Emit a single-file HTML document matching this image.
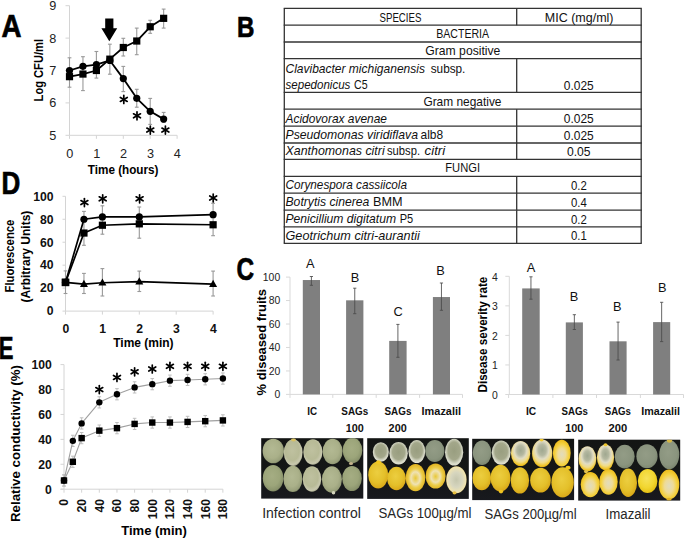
<!DOCTYPE html><html><head><meta charset="utf-8"><style>html,body{margin:0;padding:0;background:#fff;width:685px;height:538px;overflow:hidden}svg{display:block}text{font-family:"Liberation Sans",sans-serif}</style></head><body>
<svg width="685" height="538" viewBox="0 0 685 538">
<rect width="685" height="538" fill="#fff"/>
<text x="1.50" y="37.00" font-size="31.5" fill="#000" font-weight="bold" textLength="20.00" lengthAdjust="spacingAndGlyphs" stroke="#000" stroke-width="0.7">A</text>
<text x="237.10" y="37.30" font-size="30" fill="#000" font-weight="bold" textLength="17.40" lengthAdjust="spacingAndGlyphs" stroke="#000" stroke-width="0.7">B</text>
<text x="236.60" y="279.90" font-size="31.5" fill="#000" font-weight="bold" textLength="17.60" lengthAdjust="spacingAndGlyphs" stroke="#000" stroke-width="0.7">C</text>
<text x="1.40" y="193.50" font-size="31.5" fill="#000" font-weight="bold" textLength="18.80" lengthAdjust="spacingAndGlyphs" stroke="#000" stroke-width="0.7">D</text>
<text x="-1.30" y="359.30" font-size="31.5" fill="#000" font-weight="bold" textLength="14.70" lengthAdjust="spacingAndGlyphs" stroke="#000" stroke-width="0.7">E</text>
<line x1="69.50" y1="5.70" x2="69.50" y2="135.30" stroke="#d4d4d4" stroke-width="1" />
<line x1="65.50" y1="135.30" x2="69.50" y2="135.30" stroke="#d4d4d4" stroke-width="1" />
<text x="56.20" y="139.80" font-size="12.7" fill="#222" text-anchor="end" >5</text>
<line x1="65.50" y1="102.90" x2="69.50" y2="102.90" stroke="#d4d4d4" stroke-width="1" />
<text x="56.20" y="107.40" font-size="12.7" fill="#222" text-anchor="end" >6</text>
<line x1="65.50" y1="70.50" x2="69.50" y2="70.50" stroke="#d4d4d4" stroke-width="1" />
<text x="56.20" y="75.00" font-size="12.7" fill="#222" text-anchor="end" >7</text>
<line x1="65.50" y1="38.10" x2="69.50" y2="38.10" stroke="#d4d4d4" stroke-width="1" />
<text x="56.20" y="42.60" font-size="12.7" fill="#222" text-anchor="end" >8</text>
<line x1="65.50" y1="5.70" x2="69.50" y2="5.70" stroke="#d4d4d4" stroke-width="1" />
<text x="56.20" y="10.20" font-size="12.7" fill="#222" text-anchor="end" >9</text>
<line x1="69.50" y1="135.30" x2="177.10" y2="135.30" stroke="#d4d4d4" stroke-width="1" />
<line x1="69.50" y1="135.30" x2="69.50" y2="138.80" stroke="#d4d4d4" stroke-width="1" />
<text x="69.80" y="158.00" font-size="12.7" fill="#222" text-anchor="middle" >0</text>
<line x1="96.40" y1="135.30" x2="96.40" y2="138.80" stroke="#d4d4d4" stroke-width="1" />
<text x="96.70" y="158.00" font-size="12.7" fill="#222" text-anchor="middle" >1</text>
<line x1="123.30" y1="135.30" x2="123.30" y2="138.80" stroke="#d4d4d4" stroke-width="1" />
<text x="123.60" y="158.00" font-size="12.7" fill="#222" text-anchor="middle" >2</text>
<line x1="150.20" y1="135.30" x2="150.20" y2="138.80" stroke="#d4d4d4" stroke-width="1" />
<text x="150.50" y="158.00" font-size="12.7" fill="#222" text-anchor="middle" >3</text>
<line x1="177.10" y1="135.30" x2="177.10" y2="138.80" stroke="#d4d4d4" stroke-width="1" />
<text x="177.40" y="158.00" font-size="12.7" fill="#222" text-anchor="middle" >4</text>
<text x="87.80" y="174.00" font-size="12.4" fill="#000" font-weight="bold" textLength="70.70" lengthAdjust="spacingAndGlyphs" >Time (hours)</text>
<text x="43.30" y="101.40" font-size="12.6" fill="#000" font-weight="bold" textLength="62.40" lengthAdjust="spacingAndGlyphs" transform="rotate(-90 43.30 101.40)" >Log CFU/ml</text>
<line x1="69.50" y1="57.80" x2="69.50" y2="87.20" stroke="#999999" stroke-width="1.1" />
<line x1="67.60" y1="57.80" x2="71.40" y2="57.80" stroke="#999999" stroke-width="1.1" />
<line x1="67.60" y1="87.20" x2="71.40" y2="87.20" stroke="#999999" stroke-width="1.1" />
<line x1="82.95" y1="56.70" x2="82.95" y2="90.60" stroke="#999999" stroke-width="1.1" />
<line x1="81.05" y1="56.70" x2="84.85" y2="56.70" stroke="#999999" stroke-width="1.1" />
<line x1="81.05" y1="90.60" x2="84.85" y2="90.60" stroke="#999999" stroke-width="1.1" />
<line x1="96.40" y1="51.50" x2="96.40" y2="78.10" stroke="#999999" stroke-width="1.1" />
<line x1="94.50" y1="51.50" x2="98.30" y2="51.50" stroke="#999999" stroke-width="1.1" />
<line x1="94.50" y1="78.10" x2="98.30" y2="78.10" stroke="#999999" stroke-width="1.1" />
<line x1="109.85" y1="44.20" x2="109.85" y2="74.20" stroke="#999999" stroke-width="1.1" />
<line x1="107.95" y1="44.20" x2="111.75" y2="44.20" stroke="#999999" stroke-width="1.1" />
<line x1="107.95" y1="74.20" x2="111.75" y2="74.20" stroke="#999999" stroke-width="1.1" />
<line x1="123.30" y1="38.30" x2="123.30" y2="56.00" stroke="#999999" stroke-width="1.1" />
<line x1="121.40" y1="38.30" x2="125.20" y2="38.30" stroke="#999999" stroke-width="1.1" />
<line x1="121.40" y1="56.00" x2="125.20" y2="56.00" stroke="#999999" stroke-width="1.1" />
<line x1="123.30" y1="66.40" x2="123.30" y2="91.60" stroke="#999999" stroke-width="1.1" />
<line x1="121.40" y1="66.40" x2="125.20" y2="66.40" stroke="#999999" stroke-width="1.1" />
<line x1="121.40" y1="91.60" x2="125.20" y2="91.60" stroke="#999999" stroke-width="1.1" />
<line x1="136.75" y1="28.10" x2="136.75" y2="54.70" stroke="#999999" stroke-width="1.1" />
<line x1="134.85" y1="28.10" x2="138.65" y2="28.10" stroke="#999999" stroke-width="1.1" />
<line x1="134.85" y1="54.70" x2="138.65" y2="54.70" stroke="#999999" stroke-width="1.1" />
<line x1="136.75" y1="89.30" x2="136.75" y2="107.20" stroke="#999999" stroke-width="1.1" />
<line x1="134.85" y1="89.30" x2="138.65" y2="89.30" stroke="#999999" stroke-width="1.1" />
<line x1="134.85" y1="107.20" x2="138.65" y2="107.20" stroke="#999999" stroke-width="1.1" />
<line x1="150.20" y1="20.30" x2="150.20" y2="33.30" stroke="#999999" stroke-width="1.1" />
<line x1="148.30" y1="20.30" x2="152.10" y2="20.30" stroke="#999999" stroke-width="1.1" />
<line x1="148.30" y1="33.30" x2="152.10" y2="33.30" stroke="#999999" stroke-width="1.1" />
<line x1="150.20" y1="98.40" x2="150.20" y2="124.40" stroke="#999999" stroke-width="1.1" />
<line x1="148.30" y1="98.40" x2="152.10" y2="98.40" stroke="#999999" stroke-width="1.1" />
<line x1="148.30" y1="124.40" x2="152.10" y2="124.40" stroke="#999999" stroke-width="1.1" />
<line x1="163.65" y1="9.10" x2="163.65" y2="28.10" stroke="#999999" stroke-width="1.1" />
<line x1="161.75" y1="9.10" x2="165.55" y2="9.10" stroke="#999999" stroke-width="1.1" />
<line x1="161.75" y1="28.10" x2="165.55" y2="28.10" stroke="#999999" stroke-width="1.1" />
<line x1="163.65" y1="112.40" x2="163.65" y2="122.30" stroke="#999999" stroke-width="1.1" />
<line x1="161.75" y1="112.40" x2="165.55" y2="112.40" stroke="#999999" stroke-width="1.1" />
<line x1="161.75" y1="122.30" x2="165.55" y2="122.30" stroke="#999999" stroke-width="1.1" />
<polyline points="69.50,70.50 82.95,66.29 96.40,64.67 109.85,60.46 123.30,78.60 136.75,98.36 150.20,111.32 163.65,119.10" fill="none" stroke="#000" stroke-width="1.8" stroke-linejoin="round"/>
<polyline points="69.50,76.66 82.95,74.06 96.40,70.50 109.85,59.16 123.30,47.50 136.75,41.02 150.20,26.76 163.65,18.34" fill="none" stroke="#000" stroke-width="1.8" stroke-linejoin="round"/>
<circle cx="69.50" cy="70.50" r="3.6" fill="#000"/>
<circle cx="82.95" cy="66.29" r="3.6" fill="#000"/>
<circle cx="96.40" cy="64.67" r="3.6" fill="#000"/>
<circle cx="109.85" cy="60.46" r="3.6" fill="#000"/>
<circle cx="123.30" cy="78.60" r="3.6" fill="#000"/>
<circle cx="136.75" cy="98.36" r="3.6" fill="#000"/>
<circle cx="150.20" cy="111.32" r="3.6" fill="#000"/>
<circle cx="163.65" cy="119.10" r="3.6" fill="#000"/>
<rect x="65.90" y="73.06" width="7.2" height="7.2" fill="#000"/>
<rect x="79.35" y="70.46" width="7.2" height="7.2" fill="#000"/>
<rect x="92.80" y="66.90" width="7.2" height="7.2" fill="#000"/>
<rect x="106.25" y="55.56" width="7.2" height="7.2" fill="#000"/>
<rect x="119.70" y="43.90" width="7.2" height="7.2" fill="#000"/>
<rect x="133.15" y="37.42" width="7.2" height="7.2" fill="#000"/>
<rect x="146.60" y="23.16" width="7.2" height="7.2" fill="#000"/>
<rect x="160.05" y="14.74" width="7.2" height="7.2" fill="#000"/>
<polygon points="105.2,18.4 113.4,18.4 113.4,28.2 117.2,28.2 109.3,41.2 101.4,28.2 105.2,28.2" fill="#000"/>
<line x1="123.80" y1="95.40" x2="123.80" y2="103.40" stroke="#000" stroke-width="1.7" stroke-linecap="round"/>
<line x1="120.34" y1="97.40" x2="127.26" y2="101.40" stroke="#000" stroke-width="1.7" stroke-linecap="round"/>
<line x1="127.26" y1="97.40" x2="120.34" y2="101.40" stroke="#000" stroke-width="1.7" stroke-linecap="round"/>
<line x1="137.00" y1="111.80" x2="137.00" y2="119.80" stroke="#000" stroke-width="1.7" stroke-linecap="round"/>
<line x1="133.54" y1="113.80" x2="140.46" y2="117.80" stroke="#000" stroke-width="1.7" stroke-linecap="round"/>
<line x1="140.46" y1="113.80" x2="133.54" y2="117.80" stroke="#000" stroke-width="1.7" stroke-linecap="round"/>
<line x1="150.30" y1="126.10" x2="150.30" y2="134.10" stroke="#000" stroke-width="1.7" stroke-linecap="round"/>
<line x1="146.84" y1="128.10" x2="153.76" y2="132.10" stroke="#000" stroke-width="1.7" stroke-linecap="round"/>
<line x1="153.76" y1="128.10" x2="146.84" y2="132.10" stroke="#000" stroke-width="1.7" stroke-linecap="round"/>
<line x1="165.40" y1="126.10" x2="165.40" y2="134.10" stroke="#000" stroke-width="1.7" stroke-linecap="round"/>
<line x1="161.94" y1="128.10" x2="168.86" y2="132.10" stroke="#000" stroke-width="1.7" stroke-linecap="round"/>
<line x1="168.86" y1="128.10" x2="161.94" y2="132.10" stroke="#000" stroke-width="1.7" stroke-linecap="round"/>
<line x1="65.50" y1="196.30" x2="65.50" y2="311.10" stroke="#d4d4d4" stroke-width="1" />
<line x1="62.50" y1="311.10" x2="65.50" y2="311.10" stroke="#d4d4d4" stroke-width="1" />
<text x="53.50" y="315.40" font-size="12.2" fill="#111" font-weight="bold" text-anchor="end" >0</text>
<line x1="62.50" y1="288.14" x2="65.50" y2="288.14" stroke="#d4d4d4" stroke-width="1" />
<text x="53.50" y="292.44" font-size="12.2" fill="#111" font-weight="bold" text-anchor="end" >20</text>
<line x1="62.50" y1="265.18" x2="65.50" y2="265.18" stroke="#d4d4d4" stroke-width="1" />
<text x="53.50" y="269.48" font-size="12.2" fill="#111" font-weight="bold" text-anchor="end" >40</text>
<line x1="62.50" y1="242.22" x2="65.50" y2="242.22" stroke="#d4d4d4" stroke-width="1" />
<text x="53.50" y="246.52" font-size="12.2" fill="#111" font-weight="bold" text-anchor="end" >60</text>
<line x1="62.50" y1="219.26" x2="65.50" y2="219.26" stroke="#d4d4d4" stroke-width="1" />
<text x="53.50" y="223.56" font-size="12.2" fill="#111" font-weight="bold" text-anchor="end" >80</text>
<line x1="62.50" y1="196.30" x2="65.50" y2="196.30" stroke="#d4d4d4" stroke-width="1" />
<text x="53.50" y="200.60" font-size="12.2" fill="#111" font-weight="bold" text-anchor="end" >100</text>
<line x1="65.50" y1="311.10" x2="213.10" y2="311.10" stroke="#d4d4d4" stroke-width="1" />
<line x1="65.50" y1="311.10" x2="65.50" y2="314.60" stroke="#d4d4d4" stroke-width="1" />
<text x="65.80" y="333.00" font-size="12.2" fill="#111" font-weight="bold" text-anchor="middle" >0</text>
<line x1="102.40" y1="311.10" x2="102.40" y2="314.60" stroke="#d4d4d4" stroke-width="1" />
<text x="102.70" y="333.00" font-size="12.2" fill="#111" font-weight="bold" text-anchor="middle" >1</text>
<line x1="139.30" y1="311.10" x2="139.30" y2="314.60" stroke="#d4d4d4" stroke-width="1" />
<text x="139.60" y="333.00" font-size="12.2" fill="#111" font-weight="bold" text-anchor="middle" >2</text>
<line x1="176.20" y1="311.10" x2="176.20" y2="314.60" stroke="#d4d4d4" stroke-width="1" />
<text x="176.50" y="333.00" font-size="12.2" fill="#111" font-weight="bold" text-anchor="middle" >3</text>
<line x1="213.10" y1="311.10" x2="213.10" y2="314.60" stroke="#d4d4d4" stroke-width="1" />
<text x="213.40" y="333.00" font-size="12.2" fill="#111" font-weight="bold" text-anchor="middle" >4</text>
<text x="113.20" y="346.50" font-size="12.4" fill="#000" font-weight="bold" textLength="60.40" lengthAdjust="spacingAndGlyphs" >Time (min)</text>
<text x="14.20" y="292.50" font-size="12.4" fill="#000" font-weight="bold" textLength="72.90" lengthAdjust="spacingAndGlyphs" transform="rotate(-90 14.20 292.50)" >Fluorescence</text>
<text x="30.00" y="302.60" font-size="12.4" fill="#000" font-weight="bold" textLength="91.90" lengthAdjust="spacingAndGlyphs" transform="rotate(-90 30.00 302.60)" >(Arbitrary Units)</text>
<line x1="65.50" y1="270.90" x2="65.50" y2="293.50" stroke="#999999" stroke-width="1.1" />
<line x1="63.60" y1="270.90" x2="67.40" y2="270.90" stroke="#999999" stroke-width="1.1" />
<line x1="63.60" y1="293.50" x2="67.40" y2="293.50" stroke="#999999" stroke-width="1.1" />
<line x1="83.95" y1="273.40" x2="83.95" y2="293.50" stroke="#999999" stroke-width="1.1" />
<line x1="82.05" y1="273.40" x2="85.85" y2="273.40" stroke="#999999" stroke-width="1.1" />
<line x1="82.05" y1="293.50" x2="85.85" y2="293.50" stroke="#999999" stroke-width="1.1" />
<line x1="102.40" y1="268.60" x2="102.40" y2="296.00" stroke="#999999" stroke-width="1.1" />
<line x1="100.50" y1="268.60" x2="104.30" y2="268.60" stroke="#999999" stroke-width="1.1" />
<line x1="100.50" y1="296.00" x2="104.30" y2="296.00" stroke="#999999" stroke-width="1.1" />
<line x1="139.30" y1="271.10" x2="139.30" y2="291.50" stroke="#999999" stroke-width="1.1" />
<line x1="137.40" y1="271.10" x2="141.20" y2="271.10" stroke="#999999" stroke-width="1.1" />
<line x1="137.40" y1="291.50" x2="141.20" y2="291.50" stroke="#999999" stroke-width="1.1" />
<line x1="213.10" y1="271.10" x2="213.10" y2="296.00" stroke="#999999" stroke-width="1.1" />
<line x1="211.20" y1="271.10" x2="215.00" y2="271.10" stroke="#999999" stroke-width="1.1" />
<line x1="211.20" y1="296.00" x2="215.00" y2="296.00" stroke="#999999" stroke-width="1.1" />
<line x1="83.95" y1="211.40" x2="83.95" y2="245.30" stroke="#999999" stroke-width="1.1" />
<line x1="82.05" y1="211.40" x2="85.85" y2="211.40" stroke="#999999" stroke-width="1.1" />
<line x1="82.05" y1="245.30" x2="85.85" y2="245.30" stroke="#999999" stroke-width="1.1" />
<line x1="102.40" y1="205.80" x2="102.40" y2="234.20" stroke="#999999" stroke-width="1.1" />
<line x1="100.50" y1="205.80" x2="104.30" y2="205.80" stroke="#999999" stroke-width="1.1" />
<line x1="100.50" y1="234.20" x2="104.30" y2="234.20" stroke="#999999" stroke-width="1.1" />
<line x1="139.30" y1="207.00" x2="139.30" y2="238.20" stroke="#999999" stroke-width="1.1" />
<line x1="137.40" y1="207.00" x2="141.20" y2="207.00" stroke="#999999" stroke-width="1.1" />
<line x1="137.40" y1="238.20" x2="141.20" y2="238.20" stroke="#999999" stroke-width="1.1" />
<line x1="213.10" y1="203.30" x2="213.10" y2="235.70" stroke="#999999" stroke-width="1.1" />
<line x1="211.20" y1="203.30" x2="215.00" y2="203.30" stroke="#999999" stroke-width="1.1" />
<line x1="211.20" y1="235.70" x2="215.00" y2="235.70" stroke="#999999" stroke-width="1.1" />
<polyline points="65.50,282.40 83.95,219.26 102.40,216.96 139.30,216.96 213.10,214.67" fill="none" stroke="#000" stroke-width="1.7" stroke-linejoin="round"/>
<polyline points="65.50,282.40 83.95,233.04 102.40,225.23 139.30,223.85 213.10,224.77" fill="none" stroke="#000" stroke-width="1.7" stroke-linejoin="round"/>
<polyline points="65.50,282.40 83.95,284.12 102.40,282.74 139.30,281.60 213.10,284.12" fill="none" stroke="#000" stroke-width="1.7" stroke-linejoin="round"/>
<circle cx="65.50" cy="282.40" r="3.6" fill="#000"/>
<circle cx="83.95" cy="219.26" r="3.6" fill="#000"/>
<circle cx="102.40" cy="216.96" r="3.6" fill="#000"/>
<circle cx="139.30" cy="216.96" r="3.6" fill="#000"/>
<circle cx="213.10" cy="214.67" r="3.6" fill="#000"/>
<rect x="61.90" y="278.80" width="7.2" height="7.2" fill="#000"/>
<rect x="80.35" y="229.44" width="7.2" height="7.2" fill="#000"/>
<rect x="98.80" y="221.63" width="7.2" height="7.2" fill="#000"/>
<rect x="135.70" y="220.25" width="7.2" height="7.2" fill="#000"/>
<rect x="209.50" y="221.17" width="7.2" height="7.2" fill="#000"/>
<polygon points="83.95,279.80 87.95,287.00 79.95,287.00" fill="#000"/>
<polygon points="102.40,278.42 106.40,285.62 98.40,285.62" fill="#000"/>
<polygon points="139.30,277.28 143.30,284.48 135.30,284.48" fill="#000"/>
<polygon points="213.10,279.80 217.10,287.00 209.10,287.00" fill="#000"/>
<rect x="61.70" y="278.60" width="7.6" height="7.6" fill="#000"/>
<line x1="84.40" y1="198.60" x2="84.40" y2="206.60" stroke="#000" stroke-width="1.7" stroke-linecap="round"/>
<line x1="80.94" y1="200.60" x2="87.86" y2="204.60" stroke="#000" stroke-width="1.7" stroke-linecap="round"/>
<line x1="87.86" y1="200.60" x2="80.94" y2="204.60" stroke="#000" stroke-width="1.7" stroke-linecap="round"/>
<line x1="102.70" y1="194.80" x2="102.70" y2="202.80" stroke="#000" stroke-width="1.7" stroke-linecap="round"/>
<line x1="99.24" y1="196.80" x2="106.16" y2="200.80" stroke="#000" stroke-width="1.7" stroke-linecap="round"/>
<line x1="106.16" y1="196.80" x2="99.24" y2="200.80" stroke="#000" stroke-width="1.7" stroke-linecap="round"/>
<line x1="139.60" y1="194.80" x2="139.60" y2="202.80" stroke="#000" stroke-width="1.7" stroke-linecap="round"/>
<line x1="136.14" y1="196.80" x2="143.06" y2="200.80" stroke="#000" stroke-width="1.7" stroke-linecap="round"/>
<line x1="143.06" y1="196.80" x2="136.14" y2="200.80" stroke="#000" stroke-width="1.7" stroke-linecap="round"/>
<line x1="213.20" y1="194.00" x2="213.20" y2="202.00" stroke="#000" stroke-width="1.7" stroke-linecap="round"/>
<line x1="209.74" y1="196.00" x2="216.66" y2="200.00" stroke="#000" stroke-width="1.7" stroke-linecap="round"/>
<line x1="216.66" y1="196.00" x2="209.74" y2="200.00" stroke="#000" stroke-width="1.7" stroke-linecap="round"/>
<line x1="64.00" y1="364.60" x2="64.00" y2="489.20" stroke="#d4d4d4" stroke-width="1" />
<line x1="60.50" y1="489.20" x2="64.00" y2="489.20" stroke="#d4d4d4" stroke-width="1" />
<text x="51.80" y="493.50" font-size="12.2" fill="#111" font-weight="bold" text-anchor="end" >0</text>
<line x1="60.50" y1="464.28" x2="64.00" y2="464.28" stroke="#d4d4d4" stroke-width="1" />
<text x="51.80" y="468.58" font-size="12.2" fill="#111" font-weight="bold" text-anchor="end" >20</text>
<line x1="60.50" y1="439.36" x2="64.00" y2="439.36" stroke="#d4d4d4" stroke-width="1" />
<text x="51.80" y="443.66" font-size="12.2" fill="#111" font-weight="bold" text-anchor="end" >40</text>
<line x1="60.50" y1="414.44" x2="64.00" y2="414.44" stroke="#d4d4d4" stroke-width="1" />
<text x="51.80" y="418.74" font-size="12.2" fill="#111" font-weight="bold" text-anchor="end" >60</text>
<line x1="60.50" y1="389.52" x2="64.00" y2="389.52" stroke="#d4d4d4" stroke-width="1" />
<text x="51.80" y="393.82" font-size="12.2" fill="#111" font-weight="bold" text-anchor="end" >80</text>
<line x1="60.50" y1="364.60" x2="64.00" y2="364.60" stroke="#d4d4d4" stroke-width="1" />
<text x="51.80" y="368.90" font-size="12.2" fill="#111" font-weight="bold" text-anchor="end" >100</text>
<line x1="60.50" y1="489.20" x2="222.89" y2="489.20" stroke="#d4d4d4" stroke-width="1" />
<line x1="64.00" y1="489.20" x2="64.00" y2="492.70" stroke="#d4d4d4" stroke-width="1" />
<text x="68.30" y="499.00" font-size="12.2" fill="#111" font-weight="bold" text-anchor="end" transform="rotate(-90 68.30 499.00)" >0</text>
<line x1="81.65" y1="489.20" x2="81.65" y2="492.70" stroke="#d4d4d4" stroke-width="1" />
<text x="85.95" y="499.00" font-size="12.2" fill="#111" font-weight="bold" text-anchor="end" transform="rotate(-90 85.95 499.00)" >20</text>
<line x1="99.31" y1="489.20" x2="99.31" y2="492.70" stroke="#d4d4d4" stroke-width="1" />
<text x="103.61" y="499.00" font-size="12.2" fill="#111" font-weight="bold" text-anchor="end" transform="rotate(-90 103.61 499.00)" >40</text>
<line x1="116.96" y1="489.20" x2="116.96" y2="492.70" stroke="#d4d4d4" stroke-width="1" />
<text x="121.26" y="499.00" font-size="12.2" fill="#111" font-weight="bold" text-anchor="end" transform="rotate(-90 121.26 499.00)" >60</text>
<line x1="134.62" y1="489.20" x2="134.62" y2="492.70" stroke="#d4d4d4" stroke-width="1" />
<text x="138.92" y="499.00" font-size="12.2" fill="#111" font-weight="bold" text-anchor="end" transform="rotate(-90 138.92 499.00)" >80</text>
<line x1="152.27" y1="489.20" x2="152.27" y2="492.70" stroke="#d4d4d4" stroke-width="1" />
<text x="156.57" y="499.00" font-size="12.2" fill="#111" font-weight="bold" text-anchor="end" transform="rotate(-90 156.57 499.00)" >100</text>
<line x1="169.92" y1="489.20" x2="169.92" y2="492.70" stroke="#d4d4d4" stroke-width="1" />
<text x="174.22" y="499.00" font-size="12.2" fill="#111" font-weight="bold" text-anchor="end" transform="rotate(-90 174.22 499.00)" >120</text>
<line x1="187.58" y1="489.20" x2="187.58" y2="492.70" stroke="#d4d4d4" stroke-width="1" />
<text x="191.88" y="499.00" font-size="12.2" fill="#111" font-weight="bold" text-anchor="end" transform="rotate(-90 191.88 499.00)" >140</text>
<line x1="205.23" y1="489.20" x2="205.23" y2="492.70" stroke="#d4d4d4" stroke-width="1" />
<text x="209.53" y="499.00" font-size="12.2" fill="#111" font-weight="bold" text-anchor="end" transform="rotate(-90 209.53 499.00)" >160</text>
<line x1="222.89" y1="489.20" x2="222.89" y2="492.70" stroke="#d4d4d4" stroke-width="1" />
<text x="227.19" y="499.00" font-size="12.2" fill="#111" font-weight="bold" text-anchor="end" transform="rotate(-90 227.19 499.00)" >180</text>
<text x="121.20" y="534.60" font-size="12.4" fill="#000" font-weight="bold" textLength="65.70" lengthAdjust="spacingAndGlyphs" >Time (min)</text>
<text x="19.70" y="522.00" font-size="12.6" fill="#000" font-weight="bold" textLength="157.00" lengthAdjust="spacingAndGlyphs" transform="rotate(-90 19.70 522.00)" >Relative conductivity (%)</text>
<line x1="64.00" y1="474.87" x2="64.00" y2="486.08" stroke="#bdbdbd" stroke-width="1" />
<line x1="62.20" y1="474.87" x2="65.80" y2="474.87" stroke="#bdbdbd" stroke-width="1" />
<line x1="62.20" y1="486.08" x2="65.80" y2="486.08" stroke="#bdbdbd" stroke-width="1" />
<line x1="72.83" y1="435.25" x2="72.83" y2="446.46" stroke="#bdbdbd" stroke-width="1" />
<line x1="71.03" y1="435.25" x2="74.63" y2="435.25" stroke="#bdbdbd" stroke-width="1" />
<line x1="71.03" y1="446.46" x2="74.63" y2="446.46" stroke="#bdbdbd" stroke-width="1" />
<line x1="81.65" y1="417.80" x2="81.65" y2="429.02" stroke="#bdbdbd" stroke-width="1" />
<line x1="79.85" y1="417.80" x2="83.45" y2="417.80" stroke="#bdbdbd" stroke-width="1" />
<line x1="79.85" y1="429.02" x2="83.45" y2="429.02" stroke="#bdbdbd" stroke-width="1" />
<line x1="99.31" y1="396.75" x2="99.31" y2="407.96" stroke="#bdbdbd" stroke-width="1" />
<line x1="97.51" y1="396.75" x2="101.11" y2="396.75" stroke="#bdbdbd" stroke-width="1" />
<line x1="97.51" y1="407.96" x2="101.11" y2="407.96" stroke="#bdbdbd" stroke-width="1" />
<line x1="116.96" y1="388.65" x2="116.96" y2="399.86" stroke="#bdbdbd" stroke-width="1" />
<line x1="115.16" y1="388.65" x2="118.76" y2="388.65" stroke="#bdbdbd" stroke-width="1" />
<line x1="115.16" y1="399.86" x2="118.76" y2="399.86" stroke="#bdbdbd" stroke-width="1" />
<line x1="134.62" y1="381.79" x2="134.62" y2="393.01" stroke="#bdbdbd" stroke-width="1" />
<line x1="132.82" y1="381.79" x2="136.42" y2="381.79" stroke="#bdbdbd" stroke-width="1" />
<line x1="132.82" y1="393.01" x2="136.42" y2="393.01" stroke="#bdbdbd" stroke-width="1" />
<line x1="152.27" y1="378.56" x2="152.27" y2="389.77" stroke="#bdbdbd" stroke-width="1" />
<line x1="150.47" y1="378.56" x2="154.07" y2="378.56" stroke="#bdbdbd" stroke-width="1" />
<line x1="150.47" y1="389.77" x2="154.07" y2="389.77" stroke="#bdbdbd" stroke-width="1" />
<line x1="169.92" y1="375.07" x2="169.92" y2="386.28" stroke="#bdbdbd" stroke-width="1" />
<line x1="168.12" y1="375.07" x2="171.72" y2="375.07" stroke="#bdbdbd" stroke-width="1" />
<line x1="168.12" y1="386.28" x2="171.72" y2="386.28" stroke="#bdbdbd" stroke-width="1" />
<line x1="187.58" y1="374.32" x2="187.58" y2="385.53" stroke="#bdbdbd" stroke-width="1" />
<line x1="185.78" y1="374.32" x2="189.38" y2="374.32" stroke="#bdbdbd" stroke-width="1" />
<line x1="185.78" y1="385.53" x2="189.38" y2="385.53" stroke="#bdbdbd" stroke-width="1" />
<line x1="205.23" y1="373.70" x2="205.23" y2="384.91" stroke="#bdbdbd" stroke-width="1" />
<line x1="203.43" y1="373.70" x2="207.03" y2="373.70" stroke="#bdbdbd" stroke-width="1" />
<line x1="203.43" y1="384.91" x2="207.03" y2="384.91" stroke="#bdbdbd" stroke-width="1" />
<line x1="222.89" y1="372.95" x2="222.89" y2="384.16" stroke="#bdbdbd" stroke-width="1" />
<line x1="221.09" y1="372.95" x2="224.69" y2="372.95" stroke="#bdbdbd" stroke-width="1" />
<line x1="221.09" y1="384.16" x2="224.69" y2="384.16" stroke="#bdbdbd" stroke-width="1" />
<line x1="64.00" y1="474.87" x2="64.00" y2="486.08" stroke="#bdbdbd" stroke-width="1" />
<line x1="62.20" y1="474.87" x2="65.80" y2="474.87" stroke="#bdbdbd" stroke-width="1" />
<line x1="62.20" y1="486.08" x2="65.80" y2="486.08" stroke="#bdbdbd" stroke-width="1" />
<line x1="72.83" y1="456.18" x2="72.83" y2="467.39" stroke="#bdbdbd" stroke-width="1" />
<line x1="71.03" y1="456.18" x2="74.63" y2="456.18" stroke="#bdbdbd" stroke-width="1" />
<line x1="71.03" y1="467.39" x2="74.63" y2="467.39" stroke="#bdbdbd" stroke-width="1" />
<line x1="81.65" y1="432.51" x2="81.65" y2="443.72" stroke="#bdbdbd" stroke-width="1" />
<line x1="79.85" y1="432.51" x2="83.45" y2="432.51" stroke="#bdbdbd" stroke-width="1" />
<line x1="79.85" y1="443.72" x2="83.45" y2="443.72" stroke="#bdbdbd" stroke-width="1" />
<line x1="99.31" y1="425.03" x2="99.31" y2="436.25" stroke="#bdbdbd" stroke-width="1" />
<line x1="97.51" y1="425.03" x2="101.11" y2="425.03" stroke="#bdbdbd" stroke-width="1" />
<line x1="97.51" y1="436.25" x2="101.11" y2="436.25" stroke="#bdbdbd" stroke-width="1" />
<line x1="116.96" y1="422.54" x2="116.96" y2="433.75" stroke="#bdbdbd" stroke-width="1" />
<line x1="115.16" y1="422.54" x2="118.76" y2="422.54" stroke="#bdbdbd" stroke-width="1" />
<line x1="115.16" y1="433.75" x2="118.76" y2="433.75" stroke="#bdbdbd" stroke-width="1" />
<line x1="134.62" y1="418.30" x2="134.62" y2="429.52" stroke="#bdbdbd" stroke-width="1" />
<line x1="132.82" y1="418.30" x2="136.42" y2="418.30" stroke="#bdbdbd" stroke-width="1" />
<line x1="132.82" y1="429.52" x2="136.42" y2="429.52" stroke="#bdbdbd" stroke-width="1" />
<line x1="152.27" y1="416.93" x2="152.27" y2="428.15" stroke="#bdbdbd" stroke-width="1" />
<line x1="150.47" y1="416.93" x2="154.07" y2="416.93" stroke="#bdbdbd" stroke-width="1" />
<line x1="150.47" y1="428.15" x2="154.07" y2="428.15" stroke="#bdbdbd" stroke-width="1" />
<line x1="169.92" y1="416.93" x2="169.92" y2="428.15" stroke="#bdbdbd" stroke-width="1" />
<line x1="168.12" y1="416.93" x2="171.72" y2="416.93" stroke="#bdbdbd" stroke-width="1" />
<line x1="168.12" y1="428.15" x2="171.72" y2="428.15" stroke="#bdbdbd" stroke-width="1" />
<line x1="187.58" y1="416.31" x2="187.58" y2="427.52" stroke="#bdbdbd" stroke-width="1" />
<line x1="185.78" y1="416.31" x2="189.38" y2="416.31" stroke="#bdbdbd" stroke-width="1" />
<line x1="185.78" y1="427.52" x2="189.38" y2="427.52" stroke="#bdbdbd" stroke-width="1" />
<line x1="205.23" y1="415.56" x2="205.23" y2="426.78" stroke="#bdbdbd" stroke-width="1" />
<line x1="203.43" y1="415.56" x2="207.03" y2="415.56" stroke="#bdbdbd" stroke-width="1" />
<line x1="203.43" y1="426.78" x2="207.03" y2="426.78" stroke="#bdbdbd" stroke-width="1" />
<line x1="222.89" y1="414.81" x2="222.89" y2="426.03" stroke="#bdbdbd" stroke-width="1" />
<line x1="221.09" y1="414.81" x2="224.69" y2="414.81" stroke="#bdbdbd" stroke-width="1" />
<line x1="221.09" y1="426.03" x2="224.69" y2="426.03" stroke="#bdbdbd" stroke-width="1" />
<polyline points="64.00,480.48 72.83,440.86 81.65,423.41 99.31,402.35 116.96,394.25 134.62,387.40 152.27,384.16 169.92,380.67 187.58,379.93 205.23,379.30 222.89,378.56" fill="none" stroke="#a0a0a0" stroke-width="1.1" stroke-linejoin="round"/>
<polyline points="64.00,480.48 72.83,461.79 81.65,438.11 99.31,430.64 116.96,428.15 134.62,423.91 152.27,422.54 169.92,422.54 187.58,421.92 205.23,421.17 222.89,420.42" fill="none" stroke="#a0a0a0" stroke-width="1.1" stroke-linejoin="round"/>
<circle cx="64.00" cy="480.48" r="3.2" fill="#000"/>
<circle cx="72.83" cy="440.86" r="3.2" fill="#000"/>
<circle cx="81.65" cy="423.41" r="3.2" fill="#000"/>
<circle cx="99.31" cy="402.35" r="3.2" fill="#000"/>
<circle cx="116.96" cy="394.25" r="3.2" fill="#000"/>
<circle cx="134.62" cy="387.40" r="3.2" fill="#000"/>
<circle cx="152.27" cy="384.16" r="3.2" fill="#000"/>
<circle cx="169.92" cy="380.67" r="3.2" fill="#000"/>
<circle cx="187.58" cy="379.93" r="3.2" fill="#000"/>
<circle cx="205.23" cy="379.30" r="3.2" fill="#000"/>
<circle cx="222.89" cy="378.56" r="3.2" fill="#000"/>
<rect x="60.80" y="477.28" width="6.4" height="6.4" fill="#000"/>
<rect x="69.63" y="458.59" width="6.4" height="6.4" fill="#000"/>
<rect x="78.45" y="434.91" width="6.4" height="6.4" fill="#000"/>
<rect x="96.11" y="427.44" width="6.4" height="6.4" fill="#000"/>
<rect x="113.76" y="424.95" width="6.4" height="6.4" fill="#000"/>
<rect x="131.42" y="420.71" width="6.4" height="6.4" fill="#000"/>
<rect x="149.07" y="419.34" width="6.4" height="6.4" fill="#000"/>
<rect x="166.72" y="419.34" width="6.4" height="6.4" fill="#000"/>
<rect x="184.38" y="418.72" width="6.4" height="6.4" fill="#000"/>
<rect x="202.03" y="417.97" width="6.4" height="6.4" fill="#000"/>
<rect x="219.69" y="417.22" width="6.4" height="6.4" fill="#000"/>
<line x1="99.31" y1="385.60" x2="99.31" y2="393.60" stroke="#000" stroke-width="1.7" stroke-linecap="round"/>
<line x1="95.84" y1="387.60" x2="102.77" y2="391.60" stroke="#000" stroke-width="1.7" stroke-linecap="round"/>
<line x1="102.77" y1="387.60" x2="95.84" y2="391.60" stroke="#000" stroke-width="1.7" stroke-linecap="round"/>
<line x1="116.96" y1="373.40" x2="116.96" y2="381.40" stroke="#000" stroke-width="1.7" stroke-linecap="round"/>
<line x1="113.50" y1="375.40" x2="120.43" y2="379.40" stroke="#000" stroke-width="1.7" stroke-linecap="round"/>
<line x1="120.43" y1="375.40" x2="113.50" y2="379.40" stroke="#000" stroke-width="1.7" stroke-linecap="round"/>
<line x1="134.62" y1="367.80" x2="134.62" y2="375.80" stroke="#000" stroke-width="1.7" stroke-linecap="round"/>
<line x1="131.15" y1="369.80" x2="138.08" y2="373.80" stroke="#000" stroke-width="1.7" stroke-linecap="round"/>
<line x1="138.08" y1="369.80" x2="131.15" y2="373.80" stroke="#000" stroke-width="1.7" stroke-linecap="round"/>
<line x1="152.27" y1="365.00" x2="152.27" y2="373.00" stroke="#000" stroke-width="1.7" stroke-linecap="round"/>
<line x1="148.81" y1="367.00" x2="155.73" y2="371.00" stroke="#000" stroke-width="1.7" stroke-linecap="round"/>
<line x1="155.73" y1="367.00" x2="148.81" y2="371.00" stroke="#000" stroke-width="1.7" stroke-linecap="round"/>
<line x1="169.92" y1="362.30" x2="169.92" y2="370.30" stroke="#000" stroke-width="1.7" stroke-linecap="round"/>
<line x1="166.46" y1="364.30" x2="173.39" y2="368.30" stroke="#000" stroke-width="1.7" stroke-linecap="round"/>
<line x1="173.39" y1="364.30" x2="166.46" y2="368.30" stroke="#000" stroke-width="1.7" stroke-linecap="round"/>
<line x1="187.58" y1="362.30" x2="187.58" y2="370.30" stroke="#000" stroke-width="1.7" stroke-linecap="round"/>
<line x1="184.11" y1="364.30" x2="191.04" y2="368.30" stroke="#000" stroke-width="1.7" stroke-linecap="round"/>
<line x1="191.04" y1="364.30" x2="184.11" y2="368.30" stroke="#000" stroke-width="1.7" stroke-linecap="round"/>
<line x1="205.23" y1="362.30" x2="205.23" y2="370.30" stroke="#000" stroke-width="1.7" stroke-linecap="round"/>
<line x1="201.77" y1="364.30" x2="208.70" y2="368.30" stroke="#000" stroke-width="1.7" stroke-linecap="round"/>
<line x1="208.70" y1="364.30" x2="201.77" y2="368.30" stroke="#000" stroke-width="1.7" stroke-linecap="round"/>
<line x1="222.89" y1="362.30" x2="222.89" y2="370.30" stroke="#000" stroke-width="1.7" stroke-linecap="round"/>
<line x1="219.42" y1="364.30" x2="226.35" y2="368.30" stroke="#000" stroke-width="1.7" stroke-linecap="round"/>
<line x1="226.35" y1="364.30" x2="219.42" y2="368.30" stroke="#000" stroke-width="1.7" stroke-linecap="round"/>
<line x1="283.70" y1="8.40" x2="641.80" y2="8.40" stroke="#333333" stroke-width="1.3" />
<line x1="283.70" y1="25.20" x2="641.80" y2="25.20" stroke="#333333" stroke-width="1.3" />
<line x1="283.70" y1="42.00" x2="641.80" y2="42.00" stroke="#333333" stroke-width="1.3" />
<line x1="283.70" y1="58.70" x2="641.80" y2="58.70" stroke="#333333" stroke-width="1.3" />
<line x1="283.70" y1="92.40" x2="641.80" y2="92.40" stroke="#333333" stroke-width="1.3" />
<line x1="283.70" y1="109.20" x2="641.80" y2="109.20" stroke="#333333" stroke-width="1.3" />
<line x1="283.70" y1="126.20" x2="641.80" y2="126.20" stroke="#333333" stroke-width="1.3" />
<line x1="283.70" y1="143.00" x2="641.80" y2="143.00" stroke="#333333" stroke-width="1.3" />
<line x1="283.70" y1="159.40" x2="641.80" y2="159.40" stroke="#333333" stroke-width="1.3" />
<line x1="283.70" y1="176.30" x2="641.80" y2="176.30" stroke="#333333" stroke-width="1.3" />
<line x1="283.70" y1="193.10" x2="641.80" y2="193.10" stroke="#333333" stroke-width="1.3" />
<line x1="283.70" y1="210.20" x2="641.80" y2="210.20" stroke="#333333" stroke-width="1.3" />
<line x1="283.70" y1="226.90" x2="641.80" y2="226.90" stroke="#333333" stroke-width="1.3" />
<line x1="283.70" y1="243.30" x2="641.80" y2="243.30" stroke="#333333" stroke-width="1.3" />
<line x1="284.30" y1="8.40" x2="284.30" y2="243.30" stroke="#333333" stroke-width="1.3" />
<line x1="641.20" y1="8.40" x2="641.20" y2="243.30" stroke="#333333" stroke-width="1.3" />
<line x1="516.70" y1="8.40" x2="516.70" y2="25.20" stroke="#333333" stroke-width="1.3" />
<line x1="516.70" y1="58.70" x2="516.70" y2="92.40" stroke="#333333" stroke-width="1.3" />
<line x1="516.70" y1="109.20" x2="516.70" y2="126.20" stroke="#333333" stroke-width="1.3" />
<line x1="516.70" y1="126.20" x2="516.70" y2="143.00" stroke="#333333" stroke-width="1.3" />
<line x1="516.70" y1="143.00" x2="516.70" y2="159.40" stroke="#333333" stroke-width="1.3" />
<line x1="516.70" y1="176.30" x2="516.70" y2="193.10" stroke="#333333" stroke-width="1.3" />
<line x1="516.70" y1="193.10" x2="516.70" y2="210.20" stroke="#333333" stroke-width="1.3" />
<line x1="516.70" y1="210.20" x2="516.70" y2="226.90" stroke="#333333" stroke-width="1.3" />
<line x1="516.70" y1="226.90" x2="516.70" y2="243.30" stroke="#333333" stroke-width="1.3" />
<text x="379.50" y="21.60" font-size="12.6" fill="#111" textLength="41.90" lengthAdjust="spacingAndGlyphs" >SPECIES</text>
<text x="544.80" y="21.60" font-size="12.6" fill="#111" textLength="68.70" lengthAdjust="spacingAndGlyphs" >MIC (mg/ml)</text>
<text x="436.20" y="38.30" font-size="12.6" fill="#111" textLength="52.90" lengthAdjust="spacingAndGlyphs" >BACTERIA</text>
<text x="425.30" y="55.00" font-size="12.6" fill="#111" textLength="75.10" lengthAdjust="spacingAndGlyphs" >Gram positive</text>
<text x="285.50" y="73.20" font-size="12.6" fill="#111" font-style="italic" textLength="139.40" lengthAdjust="spacingAndGlyphs" >Clavibacter michiganensis</text>
<text x="430.70" y="73.20" font-size="12.6" fill="#111" textLength="34.70" lengthAdjust="spacingAndGlyphs" >subsp.</text>
<text x="285.50" y="89.00" font-size="12.6" fill="#111" font-style="italic" textLength="64.90" lengthAdjust="spacingAndGlyphs" >sepedonicus</text>
<text x="354.00" y="89.00" font-size="12.6" fill="#111" textLength="13.60" lengthAdjust="spacingAndGlyphs" >C5</text>
<text x="563.80" y="89.60" font-size="12.6" fill="#111" textLength="29.90" lengthAdjust="spacingAndGlyphs" >0.025</text>
<text x="423.40" y="106.00" font-size="12.6" fill="#111" textLength="78.10" lengthAdjust="spacingAndGlyphs" >Gram negative</text>
<text x="285.50" y="122.50" font-size="12.6" fill="#111" font-style="italic" textLength="101.50" lengthAdjust="spacingAndGlyphs" >Acidovorax avenae</text>
<text x="563.80" y="122.90" font-size="12.6" fill="#111" textLength="29.90" lengthAdjust="spacingAndGlyphs" >0.025</text>
<text x="285.50" y="138.90" font-size="12.6" fill="#111" font-style="italic" textLength="132.50" lengthAdjust="spacingAndGlyphs" >Pseudomonas viridiflava</text>
<text x="420.50" y="138.90" font-size="12.6" fill="#111" textLength="22.60" lengthAdjust="spacingAndGlyphs" >alb8</text>
<text x="563.80" y="139.80" font-size="12.6" fill="#111" textLength="29.90" lengthAdjust="spacingAndGlyphs" >0.025</text>
<text x="285.50" y="155.30" font-size="12.6" fill="#111" font-style="italic" textLength="99.20" lengthAdjust="spacingAndGlyphs" >Xanthomonas citri</text>
<text x="387.00" y="155.30" font-size="12.6" fill="#111" textLength="33.00" lengthAdjust="spacingAndGlyphs" >subsp.</text>
<text x="424.60" y="155.30" font-size="12.6" fill="#111" font-style="italic" textLength="20.60" lengthAdjust="spacingAndGlyphs" >citri</text>
<text x="567.00" y="156.20" font-size="12.6" fill="#111" textLength="23.60" lengthAdjust="spacingAndGlyphs" >0.05</text>
<text x="445.30" y="172.40" font-size="12.6" fill="#111" textLength="34.70" lengthAdjust="spacingAndGlyphs" >FUNGI</text>
<text x="285.50" y="188.90" font-size="12.6" fill="#111" font-style="italic" textLength="121.50" lengthAdjust="spacingAndGlyphs" >Corynespora cassiicola</text>
<text x="571.00" y="189.80" font-size="12.6" fill="#111" textLength="15.80" lengthAdjust="spacingAndGlyphs" >0.2</text>
<text x="285.50" y="205.80" font-size="12.6" fill="#111" font-style="italic" textLength="83.90" lengthAdjust="spacingAndGlyphs" >Botrytis cinerea</text>
<text x="373.00" y="205.80" font-size="12.6" fill="#111" textLength="29.60" lengthAdjust="spacingAndGlyphs" >BMM</text>
<text x="571.00" y="206.60" font-size="12.6" fill="#111" textLength="15.80" lengthAdjust="spacingAndGlyphs" >0.4</text>
<text x="285.50" y="223.00" font-size="12.6" fill="#111" font-style="italic" textLength="110.50" lengthAdjust="spacingAndGlyphs" >Penicillium digitatum</text>
<text x="399.70" y="223.00" font-size="12.6" fill="#111" textLength="13.50" lengthAdjust="spacingAndGlyphs" >P5</text>
<text x="571.00" y="223.60" font-size="12.6" fill="#111" textLength="15.80" lengthAdjust="spacingAndGlyphs" >0.2</text>
<text x="285.50" y="239.70" font-size="12.6" fill="#111" font-style="italic" textLength="134.30" lengthAdjust="spacingAndGlyphs" >Geotrichum citri-aurantii</text>
<text x="571.00" y="240.40" font-size="12.6" fill="#111" textLength="15.80" lengthAdjust="spacingAndGlyphs" >0.1</text>
<line x1="290.00" y1="277.10" x2="290.00" y2="394.40" stroke="#d9d9d9" stroke-width="1" />
<line x1="286.00" y1="394.40" x2="290.00" y2="394.40" stroke="#d9d9d9" stroke-width="1" />
<text x="280.20" y="398.20" font-size="10.4" fill="#222" text-anchor="end" >0</text>
<line x1="286.00" y1="370.94" x2="290.00" y2="370.94" stroke="#d9d9d9" stroke-width="1" />
<text x="280.20" y="374.74" font-size="10.4" fill="#222" text-anchor="end" >20</text>
<line x1="286.00" y1="347.48" x2="290.00" y2="347.48" stroke="#d9d9d9" stroke-width="1" />
<text x="280.20" y="351.28" font-size="10.4" fill="#222" text-anchor="end" >40</text>
<line x1="286.00" y1="324.02" x2="290.00" y2="324.02" stroke="#d9d9d9" stroke-width="1" />
<text x="280.20" y="327.82" font-size="10.4" fill="#222" text-anchor="end" >60</text>
<line x1="286.00" y1="300.56" x2="290.00" y2="300.56" stroke="#d9d9d9" stroke-width="1" />
<text x="280.20" y="304.36" font-size="10.4" fill="#222" text-anchor="end" >80</text>
<line x1="286.00" y1="277.10" x2="290.00" y2="277.10" stroke="#d9d9d9" stroke-width="1" />
<text x="280.20" y="280.90" font-size="10.4" fill="#222" text-anchor="end" >100</text>
<line x1="290.00" y1="394.40" x2="462.50" y2="394.40" stroke="#d9d9d9" stroke-width="1" />
<line x1="290.00" y1="394.40" x2="290.00" y2="397.90" stroke="#d9d9d9" stroke-width="1" />
<line x1="332.80" y1="394.40" x2="332.80" y2="397.90" stroke="#d9d9d9" stroke-width="1" />
<line x1="376.20" y1="394.40" x2="376.20" y2="397.90" stroke="#d9d9d9" stroke-width="1" />
<line x1="419.60" y1="394.40" x2="419.60" y2="397.90" stroke="#d9d9d9" stroke-width="1" />
<line x1="462.50" y1="394.40" x2="462.50" y2="397.90" stroke="#d9d9d9" stroke-width="1" />
<rect x="302.80" y="280.03" width="17.20" height="114.37" fill="#7f7f7f"/>
<rect x="346.10" y="300.33" width="17.30" height="94.07" fill="#7f7f7f"/>
<rect x="389.20" y="340.91" width="17.40" height="53.49" fill="#7f7f7f"/>
<rect x="432.90" y="297.04" width="17.10" height="97.36" fill="#7f7f7f"/>
<line x1="311.40" y1="276.50" x2="311.40" y2="285.30" stroke="#4a4a4a" stroke-width="0.85" />
<line x1="309.80" y1="276.50" x2="313.00" y2="276.50" stroke="#4a4a4a" stroke-width="0.85" />
<line x1="309.80" y1="285.30" x2="313.00" y2="285.30" stroke="#4a4a4a" stroke-width="0.85" />
<line x1="354.75" y1="288.20" x2="354.75" y2="313.70" stroke="#4a4a4a" stroke-width="0.85" />
<line x1="353.15" y1="288.20" x2="356.35" y2="288.20" stroke="#4a4a4a" stroke-width="0.85" />
<line x1="353.15" y1="313.70" x2="356.35" y2="313.70" stroke="#4a4a4a" stroke-width="0.85" />
<line x1="397.90" y1="324.40" x2="397.90" y2="357.30" stroke="#4a4a4a" stroke-width="0.85" />
<line x1="396.30" y1="324.40" x2="399.50" y2="324.40" stroke="#4a4a4a" stroke-width="0.85" />
<line x1="396.30" y1="357.30" x2="399.50" y2="357.30" stroke="#4a4a4a" stroke-width="0.85" />
<line x1="441.45" y1="283.00" x2="441.45" y2="310.30" stroke="#4a4a4a" stroke-width="0.85" />
<line x1="439.85" y1="283.00" x2="443.05" y2="283.00" stroke="#4a4a4a" stroke-width="0.85" />
<line x1="439.85" y1="310.30" x2="443.05" y2="310.30" stroke="#4a4a4a" stroke-width="0.85" />
<text x="310.30" y="267.70" font-size="12.8" fill="#111" text-anchor="middle" >A</text>
<text x="354.90" y="281.70" font-size="12.8" fill="#111" text-anchor="middle" >B</text>
<text x="398.00" y="315.50" font-size="12.8" fill="#111" text-anchor="middle" >C</text>
<text x="440.60" y="274.50" font-size="12.8" fill="#111" text-anchor="middle" >B</text>
<text x="265.60" y="395.40" font-size="12.8" fill="#000" font-weight="bold" textLength="106.40" lengthAdjust="spacingAndGlyphs" transform="rotate(-90 265.60 395.40)" >% diseased fruits</text>
<line x1="509.30" y1="276.30" x2="509.30" y2="394.50" stroke="#d9d9d9" stroke-width="1" />
<line x1="505.30" y1="394.50" x2="509.30" y2="394.50" stroke="#d9d9d9" stroke-width="1" />
<text x="497.80" y="398.70" font-size="10.4" fill="#222" text-anchor="end" >0</text>
<line x1="505.30" y1="364.95" x2="509.30" y2="364.95" stroke="#d9d9d9" stroke-width="1" />
<text x="497.80" y="369.15" font-size="10.4" fill="#222" text-anchor="end" >1</text>
<line x1="505.30" y1="335.40" x2="509.30" y2="335.40" stroke="#d9d9d9" stroke-width="1" />
<text x="497.80" y="339.60" font-size="10.4" fill="#222" text-anchor="end" >2</text>
<line x1="505.30" y1="305.85" x2="509.30" y2="305.85" stroke="#d9d9d9" stroke-width="1" />
<text x="497.80" y="310.05" font-size="10.4" fill="#222" text-anchor="end" >3</text>
<line x1="505.30" y1="276.30" x2="509.30" y2="276.30" stroke="#d9d9d9" stroke-width="1" />
<text x="497.80" y="280.50" font-size="10.4" fill="#222" text-anchor="end" >4</text>
<line x1="506.00" y1="394.50" x2="683.50" y2="394.50" stroke="#d9d9d9" stroke-width="1" />
<line x1="508.60" y1="394.50" x2="508.60" y2="398.00" stroke="#d9d9d9" stroke-width="1" />
<line x1="552.90" y1="394.50" x2="552.90" y2="398.00" stroke="#d9d9d9" stroke-width="1" />
<line x1="596.50" y1="394.50" x2="596.50" y2="398.00" stroke="#d9d9d9" stroke-width="1" />
<line x1="640.40" y1="394.50" x2="640.40" y2="398.00" stroke="#d9d9d9" stroke-width="1" />
<line x1="683.50" y1="394.50" x2="683.50" y2="398.00" stroke="#d9d9d9" stroke-width="1" />
<rect x="522.20" y="288.42" width="17.50" height="106.08" fill="#7f7f7f"/>
<rect x="565.80" y="322.40" width="17.10" height="72.10" fill="#7f7f7f"/>
<rect x="609.50" y="341.31" width="17.10" height="53.19" fill="#7f7f7f"/>
<rect x="653.10" y="322.10" width="17.10" height="72.40" fill="#7f7f7f"/>
<line x1="530.95" y1="276.80" x2="530.95" y2="299.20" stroke="#4a4a4a" stroke-width="0.85" />
<line x1="529.35" y1="276.80" x2="532.55" y2="276.80" stroke="#4a4a4a" stroke-width="0.85" />
<line x1="529.35" y1="299.20" x2="532.55" y2="299.20" stroke="#4a4a4a" stroke-width="0.85" />
<line x1="574.35" y1="314.70" x2="574.35" y2="329.50" stroke="#4a4a4a" stroke-width="0.85" />
<line x1="572.75" y1="314.70" x2="575.95" y2="314.70" stroke="#4a4a4a" stroke-width="0.85" />
<line x1="572.75" y1="329.50" x2="575.95" y2="329.50" stroke="#4a4a4a" stroke-width="0.85" />
<line x1="618.05" y1="322.10" x2="618.05" y2="360.00" stroke="#4a4a4a" stroke-width="0.85" />
<line x1="616.45" y1="322.10" x2="619.65" y2="322.10" stroke="#4a4a4a" stroke-width="0.85" />
<line x1="616.45" y1="360.00" x2="619.65" y2="360.00" stroke="#4a4a4a" stroke-width="0.85" />
<line x1="661.65" y1="302.30" x2="661.65" y2="341.60" stroke="#4a4a4a" stroke-width="0.85" />
<line x1="660.05" y1="302.30" x2="663.25" y2="302.30" stroke="#4a4a4a" stroke-width="0.85" />
<line x1="660.05" y1="341.60" x2="663.25" y2="341.60" stroke="#4a4a4a" stroke-width="0.85" />
<text x="530.90" y="271.90" font-size="12.8" fill="#111" text-anchor="middle" >A</text>
<text x="573.90" y="300.50" font-size="12.8" fill="#111" text-anchor="middle" >B</text>
<text x="617.20" y="310.80" font-size="12.8" fill="#111" text-anchor="middle" >B</text>
<text x="662.30" y="291.90" font-size="12.8" fill="#111" text-anchor="middle" >B</text>
<text x="486.60" y="392.50" font-size="12.8" fill="#000" font-weight="bold" textLength="115.80" lengthAdjust="spacingAndGlyphs" transform="rotate(-90 486.60 392.50)" >Disease severity rate</text>
<text x="307.20" y="415.00" font-size="11.6" fill="#111" font-weight="bold" textLength="9.80" lengthAdjust="spacingAndGlyphs" >IC</text>
<text x="341.30" y="415.00" font-size="11.6" fill="#111" font-weight="bold" textLength="26.90" lengthAdjust="spacingAndGlyphs" >SAGs</text>
<text x="345.70" y="431.70" font-size="11.6" fill="#111" font-weight="bold" textLength="18.10" lengthAdjust="spacingAndGlyphs" >100</text>
<text x="384.50" y="415.00" font-size="11.6" fill="#111" font-weight="bold" textLength="26.90" lengthAdjust="spacingAndGlyphs" >SAGs</text>
<text x="388.60" y="431.70" font-size="11.6" fill="#111" font-weight="bold" textLength="18.10" lengthAdjust="spacingAndGlyphs" >200</text>
<text x="421.60" y="415.00" font-size="11.6" fill="#111" font-weight="bold" textLength="39.40" lengthAdjust="spacingAndGlyphs" >Imazalil</text>
<text x="525.90" y="415.00" font-size="11.6" fill="#111" font-weight="bold" textLength="10.20" lengthAdjust="spacingAndGlyphs" >IC</text>
<text x="561.50" y="415.00" font-size="11.6" fill="#111" font-weight="bold" textLength="26.30" lengthAdjust="spacingAndGlyphs" >SAGs</text>
<text x="565.30" y="431.70" font-size="11.6" fill="#111" font-weight="bold" textLength="18.10" lengthAdjust="spacingAndGlyphs" >100</text>
<text x="604.70" y="415.00" font-size="11.6" fill="#111" font-weight="bold" textLength="26.30" lengthAdjust="spacingAndGlyphs" >SAGs</text>
<text x="608.50" y="431.70" font-size="11.6" fill="#111" font-weight="bold" textLength="18.70" lengthAdjust="spacingAndGlyphs" >200</text>
<text x="641.20" y="415.00" font-size="11.6" fill="#111" font-weight="bold" textLength="38.80" lengthAdjust="spacingAndGlyphs" >Imazalil</text>
<defs>
<radialGradient id="mold1" cx="0.45" cy="0.42" r="0.62"><stop offset="0" stop-color="#b3b993"/><stop offset="0.6" stop-color="#aab089"/><stop offset="0.88" stop-color="#989f7a"/><stop offset="1" stop-color="#767d5e"/></radialGradient>
<radialGradient id="moldg" cx="0.45" cy="0.42" r="0.62"><stop offset="0" stop-color="#939c86"/><stop offset="0.7" stop-color="#8a947e"/><stop offset="0.92" stop-color="#7e8872"/><stop offset="1" stop-color="#626c56"/></radialGradient>
<radialGradient id="moldw" cx="0.5" cy="0.45" r="0.6"><stop offset="0" stop-color="#999e80"/><stop offset="0.55" stop-color="#a3a78a"/><stop offset="0.78" stop-color="#d6d8c6"/><stop offset="0.94" stop-color="#e6e6d6"/><stop offset="1" stop-color="#b5b092"/></radialGradient>
<radialGradient id="moldy" cx="0.5" cy="0.38" r="0.65"><stop offset="0" stop-color="#a0a890"/><stop offset="0.3" stop-color="#b4b8a0"/><stop offset="0.5" stop-color="#e0dcc4"/><stop offset="0.7" stop-color="#f0dc8a"/><stop offset="0.88" stop-color="#f0c428"/><stop offset="1" stop-color="#d09c0c"/></radialGradient>
<radialGradient id="yel" cx="0.45" cy="0.4" r="0.65"><stop offset="0" stop-color="#ecce40"/><stop offset="0.6" stop-color="#e4c02a"/><stop offset="0.9" stop-color="#dbab1a"/><stop offset="1" stop-color="#b8880c"/></radialGradient>
<radialGradient id="yell" cx="0.45" cy="0.4" r="0.65"><stop offset="0" stop-color="#f6e25a"/><stop offset="0.6" stop-color="#f2d630"/><stop offset="0.9" stop-color="#e6c216"/><stop offset="1" stop-color="#c29a0c"/></radialGradient>
<radialGradient id="yelw" cx="0.5" cy="0.52" r="0.6"><stop offset="0" stop-color="#e8c838"/><stop offset="0.2" stop-color="#ecd67a"/><stop offset="0.38" stop-color="#efe2b4"/><stop offset="0.58" stop-color="#ecce4c"/><stop offset="0.9" stop-color="#dfae18"/><stop offset="1" stop-color="#b8880c"/></radialGradient>
<radialGradient id="ywhite" cx="0.5" cy="0.55" r="0.62"><stop offset="0" stop-color="#e2dcbc"/><stop offset="0.35" stop-color="#eedb98"/><stop offset="0.62" stop-color="#f4d244"/><stop offset="0.92" stop-color="#ebb814"/><stop offset="1" stop-color="#c8960a"/></radialGradient>
<radialGradient id="ywg" cx="0.5" cy="0.5" r="0.62"><stop offset="0" stop-color="#c5c6ad"/><stop offset="0.45" stop-color="#d7d6bf"/><stop offset="0.75" stop-color="#efe3b0"/><stop offset="1" stop-color="#dcae22"/></radialGradient>
<radialGradient id="mold1g" cx="0.45" cy="0.42" r="0.62"><stop offset="0" stop-color="#a5ad83"/><stop offset="0.6" stop-color="#9ca57a"/><stop offset="0.88" stop-color="#8a936c"/><stop offset="1" stop-color="#6a7252"/></radialGradient>
<radialGradient id="mold1w" cx="0.45" cy="0.42" r="0.62"><stop offset="0" stop-color="#bfc1a0"/><stop offset="0.6" stop-color="#b7ba96"/><stop offset="0.85" stop-color="#c8c8ae"/><stop offset="1" stop-color="#939579"/></radialGradient>
<linearGradient id="bgph" x1="0" y1="0" x2="0" y2="1"><stop offset="0" stop-color="#131514"/><stop offset="0.6" stop-color="#141616"/><stop offset="1" stop-color="#18191e"/></linearGradient>
</defs>
<rect x="261.20" y="438.20" width="102.10" height="60.40" fill="url(#bgph)"/>
<svg x="261.20" y="438.20" width="102.10" height="60.40" viewBox="261.20 438.20 102.10 60.40" overflow="hidden">
<ellipse cx="273.30" cy="451.00" rx="10.7" ry="12.3" fill="url(#mold1)"/>
<ellipse cx="293.20" cy="452.60" rx="9.4" ry="13.3" fill="url(#mold1w)"/>
<ellipse cx="312.90" cy="452.00" rx="9.6" ry="12.8" fill="url(#mold1w)"/>
<ellipse cx="332.60" cy="451.50" rx="10.0" ry="12.8" fill="url(#mold1)"/>
<ellipse cx="352.50" cy="450.50" rx="9.8" ry="12.8" fill="url(#mold1g)"/>
<ellipse cx="273.10" cy="478.20" rx="10.3" ry="13.2" fill="url(#mold1g)"/>
<ellipse cx="292.90" cy="478.90" rx="9.5" ry="13.1" fill="url(#mold1)"/>
<ellipse cx="312.00" cy="479.00" rx="9.3" ry="12.8" fill="url(#mold1w)"/>
<ellipse cx="331.90" cy="479.50" rx="10.0" ry="13.2" fill="url(#mold1)"/>
<ellipse cx="352.00" cy="478.50" rx="9.8" ry="12.6" fill="url(#mold1g)"/>
<ellipse cx="293.50" cy="439.80" rx="2.4" ry="1.6" fill="#d9c262"/>
<ellipse cx="333.50" cy="492.80" rx="1.8" ry="1.8" fill="#d6d6bf"/>
<ellipse cx="351.00" cy="463.60" rx="2.0" ry="1.5" fill="#c4b48c"/>
</svg>
<rect x="367.20" y="438.20" width="101.60" height="60.70" fill="url(#bgph)"/>
<svg x="367.20" y="438.20" width="101.60" height="60.70" viewBox="367.20 438.20 101.60 60.70" overflow="hidden">
<ellipse cx="380.80" cy="452.00" rx="8.0" ry="9.8" fill="url(#moldw)"/>
<ellipse cx="398.60" cy="453.20" rx="9.2" ry="11.3" fill="url(#moldw)"/>
<ellipse cx="416.80" cy="451.50" rx="8.4" ry="11.5" fill="url(#moldw)"/>
<ellipse cx="434.80" cy="451.00" rx="9.7" ry="11.1" fill="url(#moldg)"/>
<ellipse cx="454.10" cy="452.20" rx="9.1" ry="13.4" fill="url(#moldw)"/>
<ellipse cx="378.20" cy="475.00" rx="10.0" ry="13.4" fill="url(#yel)"/>
<ellipse cx="396.50" cy="478.50" rx="9.4" ry="11.7" fill="url(#yel)"/>
<ellipse cx="415.50" cy="477.60" rx="9.9" ry="13.7" fill="url(#yelw)"/>
<ellipse cx="435.60" cy="476.00" rx="10.0" ry="12.6" fill="url(#yelw)"/>
<ellipse cx="456.40" cy="479.80" rx="10.2" ry="13.5" fill="url(#ywg)"/>
<ellipse cx="378.50" cy="462.20" rx="2.5" ry="2.0" fill="#f2c820"/>
<ellipse cx="454.50" cy="492.80" rx="2.0" ry="1.6" fill="#e8c040"/>
</svg>
<rect x="472.20" y="438.80" width="101.90" height="61.30" fill="url(#bgph)"/>
<svg x="472.20" y="438.80" width="101.90" height="61.30" viewBox="472.20 438.80 101.90 61.30" overflow="hidden">
<ellipse cx="482.10" cy="452.80" rx="9.4" ry="12.2" fill="url(#moldg)"/>
<ellipse cx="501.20" cy="452.60" rx="9.4" ry="12.2" fill="url(#moldw)"/>
<ellipse cx="520.60" cy="453.50" rx="9.6" ry="12.6" fill="url(#moldy)"/>
<ellipse cx="542.20" cy="453.30" rx="10.1" ry="13.9" fill="url(#moldy)"/>
<ellipse cx="561.80" cy="453.10" rx="8.9" ry="13.4" fill="url(#ywhite)"/>
<ellipse cx="481.80" cy="478.10" rx="9.4" ry="12.1" fill="url(#yel)"/>
<ellipse cx="500.50" cy="478.10" rx="10.0" ry="13.3" fill="url(#yel)"/>
<ellipse cx="519.90" cy="480.40" rx="9.2" ry="13.2" fill="url(#yel)"/>
<ellipse cx="540.50" cy="480.20" rx="10.3" ry="12.4" fill="url(#yel)"/>
<ellipse cx="562.60" cy="482.30" rx="11.2" ry="15.1" fill="url(#yel)"/>
<ellipse cx="568.00" cy="467.80" rx="2.6" ry="2.0" fill="#f0c820"/>
<ellipse cx="501.00" cy="491.60" rx="2.2" ry="1.8" fill="#f0c420"/>
<ellipse cx="541.50" cy="440.00" rx="2.0" ry="1.4" fill="#f0c830"/>
</svg>
<rect x="578.20" y="439.70" width="102.00" height="60.90" fill="url(#bgph)"/>
<svg x="578.20" y="439.70" width="102.00" height="60.90" viewBox="578.20 439.70 102.00 60.90" overflow="hidden">
<ellipse cx="587.40" cy="458.80" rx="8.9" ry="12.6" fill="url(#moldy)"/>
<ellipse cx="605.50" cy="457.30" rx="8.6" ry="12.9" fill="url(#moldy)"/>
<ellipse cx="624.70" cy="456.60" rx="10.0" ry="11.8" fill="url(#moldg)"/>
<ellipse cx="647.00" cy="456.30" rx="10.6" ry="12.0" fill="url(#moldg)"/>
<ellipse cx="669.30" cy="454.60" rx="10.0" ry="14.6" fill="url(#moldg)"/>
<ellipse cx="590.30" cy="484.60" rx="9.6" ry="12.6" fill="url(#ywhite)"/>
<ellipse cx="608.50" cy="481.80" rx="9.2" ry="12.9" fill="url(#ywhite)"/>
<ellipse cx="628.20" cy="482.70" rx="8.8" ry="14.2" fill="url(#yel)"/>
<ellipse cx="647.60" cy="480.90" rx="9.8" ry="12.0" fill="url(#yell)"/>
<ellipse cx="669.00" cy="484.50" rx="10.3" ry="15.0" fill="url(#ywhite)"/>
<ellipse cx="669.50" cy="440.80" rx="2.6" ry="2.0" fill="#d8b840"/>
<ellipse cx="605.50" cy="444.80" rx="2.0" ry="1.5" fill="#f0c830"/>
<ellipse cx="669.00" cy="499.30" rx="2.6" ry="1.5" fill="#e0b020"/>
<ellipse cx="586.00" cy="471.60" rx="2.0" ry="1.6" fill="#e0c050"/>
</svg>
<text x="262.20" y="518.00" font-size="15.4" fill="#262626" textLength="98.60" lengthAdjust="spacingAndGlyphs" >Infection control</text>
<text x="378.50" y="518.30" font-size="15.4" fill="#262626" textLength="93.00" lengthAdjust="spacingAndGlyphs" >SAGs 100µg/ml</text>
<text x="484.60" y="518.60" font-size="15.4" fill="#262626" textLength="92.00" lengthAdjust="spacingAndGlyphs" >SAGs 200µg/ml</text>
<text x="605.50" y="518.60" font-size="15.4" fill="#262626" textLength="45.00" lengthAdjust="spacingAndGlyphs" >Imazalil</text>
</svg></body></html>
